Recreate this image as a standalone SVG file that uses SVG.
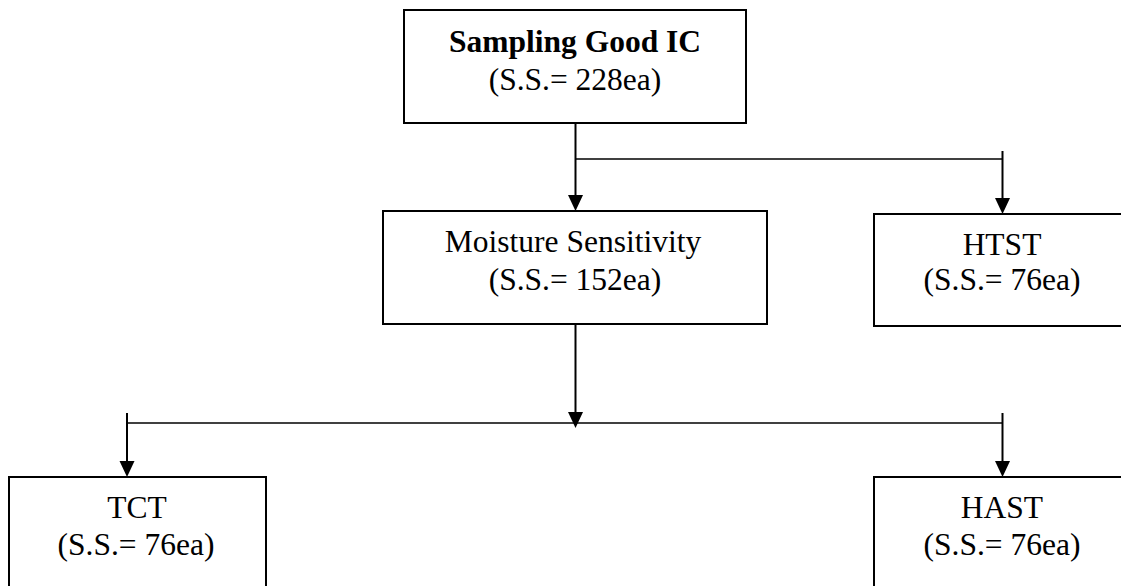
<svg xmlns="http://www.w3.org/2000/svg" width="1121" height="586" viewBox="0 0 1121 586">
<defs>
<style>
.box{fill:#fff;stroke:#000;stroke-width:2}
.t{font-family:"Liberation Serif","Times New Roman",serif;font-size:31.5px;fill:#000;text-anchor:middle}
.b{font-weight:bold}
.ln{stroke:#000;stroke-width:2;fill:none}
.hl{stroke:#000;stroke-width:1.6;fill:none}
.ah{fill:#000}
</style>
</defs>
<rect width="1121" height="586" fill="#fff"/>
<g id="connectors">
<line class="ln" x1="575.5" y1="123" x2="575.5" y2="196"/>
<polygon class="ah" points="568,195 583,195 575.5,211"/>
<line class="hl" x1="575.5" y1="159" x2="1002.5" y2="159"/>
<line class="ln" x1="1002.5" y1="151" x2="1002.5" y2="199"/>
<polygon class="ah" points="995,198 1010,198 1002.5,214"/>
<line class="ln" x1="575.5" y1="324" x2="575.5" y2="413"/>
<polygon class="ah" points="568,412 583,412 575.5,428"/>
<line class="hl" x1="127" y1="423" x2="1002.5" y2="423"/>
<line class="ln" x1="127" y1="413" x2="127" y2="462"/>
<polygon class="ah" points="119.5,461 134.5,461 127,477"/>
<line class="ln" x1="1002.5" y1="413" x2="1002.5" y2="462"/>
<polygon class="ah" points="995,461 1010,461 1002.5,477"/>
</g>
<g id="sampling">
<rect class="box" x="404" y="10" width="342" height="113"/>
<text class="t b" x="575" y="52">Sampling Good IC</text>
<text class="t" x="575" y="90">(S.S.= 228ea)</text>
</g>
<g id="moisture">
<rect class="box" x="383" y="211" width="384" height="113"/>
<text class="t" x="573" y="252">Moisture Sensitivity</text>
<text class="t" x="575" y="290">(S.S.= 152ea)</text>
</g>
<g id="htst">
<rect class="box" x="874" y="214" width="258" height="112"/>
<text class="t" x="1002" y="255">HTST</text>
<text class="t" x="1002" y="290">(S.S.= 76ea)</text>
</g>
<g id="tct">
<rect class="box" x="9" y="477" width="257" height="130"/>
<text class="t" x="137" y="518">TCT</text>
<text class="t" x="136" y="555">(S.S.= 76ea)</text>
</g>
<g id="hast">
<rect class="box" x="874" y="477" width="258" height="130"/>
<text class="t" x="1002" y="518">HAST</text>
<text class="t" x="1002" y="555">(S.S.= 76ea)</text>
</g>
</svg>
